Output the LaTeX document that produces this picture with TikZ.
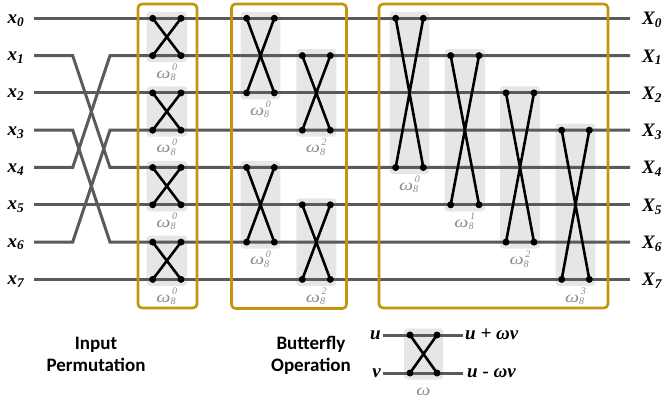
\documentclass[tikz,border=0pt]{standalone}
\usepackage{fontspec}
\setmainfont{Liberation Serif}
\newfontfamily\captionsans{Carlito}

\pgfdeclarelayer{shadelayer}
\pgfdeclarelayer{wirelayer}
\pgfdeclarelayer{framelayer}
\pgfsetlayers{shadelayer,wirelayer,main,framelayer}

\definecolor{wire}{HTML}{5A5A5A}
\definecolor{frame}{HTML}{C4940A}
\definecolor{shade}{HTML}{E6E6E6}
\definecolor{twid}{HTML}{8C8C8C}

\tikzset{
  wireline/.style={draw=wire, line width=3pt},
  crossline/.style={draw=black, line width=2.6pt},
  dot/.style={circle, fill=black, inner sep=0pt, minimum size=7pt},
  stagebox/.style={draw=frame, line width=2.6pt, rounded corners=4pt},
  shadebox/.style={fill=shade, rounded corners=3pt},
  varlabel/.style={font=\fontsize{19}{19}\selectfont\bfseries\itshape, inner sep=0pt},
  twiddle/.style={font=\fontsize{16}{16}\selectfont\itshape, text=twid, inner sep=0pt, anchor=base},
  caption/.style={font=\fontsize{19}{19}\selectfont\captionsans\bfseries, inner sep=0pt, anchor=base},
}

% y position of row i
\newcommand\ry[1]{18.3+37.3*#1}
% wide omega for the twiddle labels
\newcommand\wideomega{\scalebox{1.25}[1]{ω}}
% twiddle factor: omega with index 8 below and exponent above, stacked
\newcommand\twf[1]{\wideomega\rlap{\raisebox{-2.4pt}{\fontsize{10}{10}\selectfont 8}}%
  \raisebox{7.6pt}{\fontsize{10}{10}\selectfont\,#1}}

% butterfly: name, left x, right x, top y, bottom y, label text
\newcommand\butterfly[6]{%
  \begin{pgfonlayer}{shadelayer}
    \fill[shadebox] (#2-6,#4-6.5) rectangle (#3+6,#5+6.5);
  \end{pgfonlayer}
  \node[dot] (#1ul) at (#2,#4) {};
  \node[dot] (#1ur) at (#3,#4) {};
  \node[dot] (#1ll) at (#2,#5) {};
  \node[dot] (#1lr) at (#3,#5) {};
  \draw[crossline] (#1ul.center) -- (#1lr.center) (#1ur.center) -- (#1ll.center);
  \node[twiddle] (#1w) at ({(#2+#3)/2},#5+22.7) {#6};
}

\begin{document}
\begin{tikzpicture}[x=1pt,y=-1pt]
\useasboundingbox (0,0) rectangle (664,401);

% inputs and outputs
\foreach \i in {0,...,7}{
  \coordinate (in\i) at (34,\ry{\i});
  \coordinate (out\i) at (630,\ry{\i});
  \coordinate (pa\i) at (72.7,\ry{\i});
  \coordinate (pb\i) at (110,\ry{\i});
  \node[varlabel, anchor=base west] (x\i) at (7.5,\ry{\i}+5) {x\textsubscript{\i}};
  \node[varlabel, anchor=base west] (X\i) at (642,\ry{\i}+6.5) {X\textsubscript{\i}};
}

\begin{pgfonlayer}{wirelayer}
  \foreach \i in {0,2,5,7}{\draw[wireline] (in\i) -- (out\i);}
  \draw[wireline] (in1) -- (pa1) -- (pb4) -- (out4);
  \draw[wireline] (in4) -- (pa4) -- (pb1) -- (out1);
  \draw[wireline] (in3) -- (pa3) -- (pb6) -- (out6);
  \draw[wireline] (in6) -- (pa6) -- (pb3) -- (out3);
\end{pgfonlayer}

% stage 1
\butterfly{sa}{152.7}{181}{\ry{0}}{\ry{1}}{\twf{0}}
\butterfly{sb}{152.7}{181}{\ry{2}}{\ry{3}}{\twf{0}}
\butterfly{sc}{152.7}{181}{\ry{4}}{\ry{5}}{\twf{0}}
\butterfly{sd}{152.7}{181}{\ry{6}}{\ry{7}}{\twf{0}}
% stage 2
\butterfly{ta}{246.7}{274.3}{\ry{0}}{\ry{2}}{\twf{0}}
\butterfly{tb}{302.3}{330.3}{\ry{1}}{\ry{3}}{\twf{2}}
\butterfly{tc}{246.7}{274.3}{\ry{4}}{\ry{6}}{\twf{0}}
\butterfly{td}{302.3}{330.3}{\ry{5}}{\ry{7}}{\twf{2}}
% stage 3
\butterfly{ua}{395.7}{423.3}{\ry{0}}{\ry{4}}{\twf{0}}
\butterfly{ub}{450.7}{479}{\ry{1}}{\ry{5}}{\twf{1}}
\butterfly{uc}{506}{534}{\ry{2}}{\ry{6}}{\twf{2}}
\butterfly{ud}{561.7}{589.3}{\ry{3}}{\ry{7}}{\twf{3}}

% stage frames
\begin{pgfonlayer}{framelayer}
  \draw[stagebox] (138,4) rectangle (197,308);
  \draw[stagebox] (231.5,4) rectangle (346.5,308.5);
  \draw[stagebox] (379,4) rectangle (608,308);
\end{pgfonlayer}

% captions
\node[caption] (cap1a) at (96,349) {Input};
\node[caption] (cap1b) at (96,371) {Permutation};
\node[caption] (cap2a) at (311,349) {Butterfly};
\node[caption] (cap2b) at (311,371) {Operation};

% legend butterfly
\coordinate (lu0) at (383,335);
\coordinate (lu1) at (463,335);
\coordinate (lv0) at (383,373);
\coordinate (lv1) at (463,373);
\begin{pgfonlayer}{wirelayer}
  \draw[wireline] (lu0) -- (lu1);
  \draw[wireline] (lv0) -- (lv1);
\end{pgfonlayer}
\butterfly{lg}{410}{437}{335}{373}{\wideomega}
\node[varlabel, anchor=base east] (lu) at (381,339.5) {u};
\node[varlabel, anchor=base east] (lv) at (381,377.5) {v};
\node[varlabel, anchor=base west] (luo) at (465,339.5) {u + ωv};
\node[varlabel, anchor=base west] (lvo) at (467,377.5) {u - ωv};
\end{tikzpicture}
\end{document}
